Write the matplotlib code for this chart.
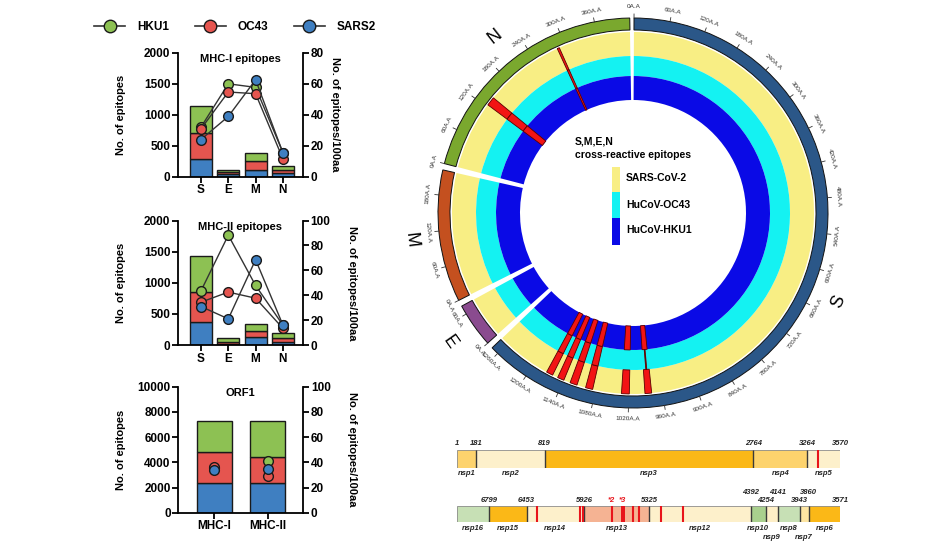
import numpy as np
import matplotlib
matplotlib.use('Agg')
import matplotlib.pyplot as plt
from matplotlib.patches import Wedge, Rectangle
from matplotlib.lines import Line2D

plt.rcParams['font.family'] = ['Liberation Sans', 'DejaVu Sans']
plt.rcParams['font.weight'] = 'bold'
plt.rcParams['axes.labelweight'] = 'bold'

# ---------------- data: epitope counts / density ----------------
proteins = ['S', 'E', 'M', 'N']
strains = ['HKU1', 'OC43', 'SARS2']
strain_colors = {'HKU1': '#8dc153', 'OC43': '#e5554f', 'SARS2': '#3f7fc1'}

mhc1_sars2 = [285, 38, 113, 54]
mhc1_oc43 = [420, 32, 134, 59]
mhc1_hku1 = [430, 37, 129, 54]
mhc1_dens_hku1 = [31.9, 59.9, 57.6, 15.5]
mhc1_dens_oc43 = [30.8, 54.6, 53.5, 11.4]
mhc1_dens_sars2 = [23.9, 38.8, 62.5, 15.3]

mhc2_sars2 = [376, 15, 134, 55]
mhc2_oc43 = [468, 35, 97, 60]
mhc2_hku1 = [581, 57, 102, 70]
mhc2_dens_hku1 = [43.5, 88.2, 47.8, 16.0]
mhc2_dens_oc43 = [34.4, 42.5, 37.6, 13.4]
mhc2_dens_sars2 = [30.9, 21.0, 68.5, 16.1]

orf1_classes = ['MHC-I', 'MHC-II']
orf1_sars2 = [2330, 2330]
orf1_oc43 = [2510, 2115]
orf1_hku1 = [2460, 2860]
orf1_dens_hku1 = [35.8, 41.3]
orf1_dens_oc43 = [36.6, 29.1]
orf1_dens_sars2 = [34.0, 34.4]

# ---------------- data: circos of structural proteins ----------------
seg_names = ['S', 'E', 'M', 'N']
seg_lengths = [1273, 75, 222, 419]
seg_colors = ['#2b5788', '#8a4b8f', '#c4501f', '#7aa82e']
seg_ticks = [list(range(0, 1261, 60)), [0, 60], [0, 60, 120, 180], list(range(0, 361, 60))]

epi_seg = ['N', 'N', 'S', 'S', 'S', 'S', 'S', 'S', 'S']
epi_start = [124, 285, 979, 1019, 1085, 1114, 1139, 1161, 984]
epi_end = [140, 289, 991, 1033, 1098, 1127, 1151, 1173, 986]
epi_rings = ['YCB', 'YCB', 'YB', 'YB', 'YCB', 'YCB', 'YCB', 'YCB', 'C']

ring_labels = ['SARS-CoV-2', 'HuCoV-OC43', 'HuCoV-HKU1']
ring_colors = ['#f8ee84', '#14f2f2', '#0a0ae6']

# ---------------- data: ORF1ab schematic ----------------
orf1a_start = [1, 181, 819, 2764, 3264]
orf1a_end = [181, 819, 2764, 3264, 3570]
orf1a_names = ['nsp1', 'nsp2', 'nsp3', 'nsp4', 'nsp5']
orf1a_colors = ['#fdd36d', '#fdf0cb', '#fbb817', '#fdd36d', '#fdf0cb']
orf1a_numbers = [1, 181, 819, 2764, 3264, 3570]
orf1a_marks = [3361]

orf1b_start = [3571, 3860, 3943, 4141, 4254, 4392, 5325, 5926, 6453, 6799]
orf1b_end = [3860, 3943, 4141, 4254, 4392, 5325, 5926, 6453, 6799, 7096]
orf1b_names = ['nsp6', 'nsp7', 'nsp8', 'nsp9', 'nsp10', 'nsp12', 'nsp13', 'nsp14', 'nsp15', 'nsp16']
orf1b_colors = ['#fbb817', '#fde5a2', '#c7e0b5', '#fdeec6', '#a9d08e', '#fdf0cb',
                '#f5b393', '#fdf0cb', '#fbb817', '#c7e0b5']
orf1b_numbers = [6799, 6453, 5926, 5325, 4392, 4254, 4141, 3943, 3860, 3571]
orf1b_marks = [6361, 5963, 5938, 5671, 5473, 5420, 5220, 5013]
orf1b_thick = [5550, 5585]
orf1b_stars = ['*2', '*3']
orf1b_star_pos = [5671, 5570]

W, H = 940, 558
fig = plt.figure(figsize=(W / 100, H / 100), dpi=100)


def px_rect(x0, y0, x1, y1):
    return [x0 / W, 1 - y1 / H, (x1 - x0) / W, (y1 - y0) / H]


def panel(rect, cats, counts, dens, ymax, yticks, rmax, title, width, xlim, lines, rlab_x):
    ax = fig.add_axes(rect)
    x = np.arange(len(cats))
    bottom = np.zeros(len(cats))
    for name in ['SARS2', 'OC43', 'HKU1']:
        vals = np.array(counts[name])
        ax.bar(x, vals, width, bottom=bottom, color=strain_colors[name],
               edgecolor='#1a1a1a', linewidth=1.0, zorder=2)
        bottom += vals
    ax.set_xlim(*xlim)
    ax.set_ylim(0, ymax)
    ax.set_yticks(yticks)
    ax.set_xticks(x)
    ax.set_xticklabels(cats)
    ax.spines['top'].set_visible(False)
    ax.spines['right'].set_visible(False)
    for s in ['left', 'bottom']:
        ax.spines[s].set_linewidth(1.3)
    ax.tick_params(width=1.3, length=4, labelsize=8.5, pad=1.5)
    ax.set_ylabel('No. of epitopes', fontsize=8)
    ax.yaxis.set_label_coords(-0.42, 0.5)
    ax.set_title(title, fontsize=8, fontweight='bold', y=0.86)

    ax2 = ax.twinx()
    for name in strains:
        ax2.plot(x, dens[name], color='#333333', lw=1.0 if lines else 0,
                 marker='o', ms=7, mfc=strain_colors[name], mec='#1a1a1a', mew=1, zorder=3)
    ax2.set_ylim(0, rmax)
    ax2.set_yticks(np.linspace(0, rmax, 6 if rmax == 100 else 5))
    for s in ['top', 'left', 'bottom']:
        ax2.spines[s].set_visible(False)
    ax2.spines['right'].set_linewidth(1.3)
    ax2.tick_params(width=1.3, length=4, labelsize=8.5, pad=1.5)
    ax2.set_ylabel('No. of epitopes/100aa', fontsize=8, rotation=-90)
    ax2.yaxis.set_label_coords(rlab_x, 0.5)
    return ax


panel(px_rect(178, 52.7, 303, 176.5), proteins,
      {'SARS2': mhc1_sars2, 'OC43': mhc1_oc43, 'HKU1': mhc1_hku1},
      {'HKU1': mhc1_dens_hku1, 'OC43': mhc1_dens_oc43, 'SARS2': mhc1_dens_sars2},
      2000, [0, 500, 1000, 1500, 2000], 80, 'MHC-I epitopes', 0.8, (-0.842, 3.736), True, 1.3)
panel(px_rect(178, 220.5, 303, 345), proteins,
      {'SARS2': mhc2_sars2, 'OC43': mhc2_oc43, 'HKU1': mhc2_hku1},
      {'HKU1': mhc2_dens_hku1, 'OC43': mhc2_dens_oc43, 'SARS2': mhc2_dens_sars2},
      2000, [0, 500, 1000, 1500, 2000], 100, 'MHC-II epitopes', 0.8, (-0.842, 3.736), True, 1.43)
panel(px_rect(178.3, 386.7, 303.3, 512.7), orf1_classes,
      {'SARS2': orf1_sars2, 'OC43': orf1_oc43, 'HKU1': orf1_hku1},
      {'HKU1': orf1_dens_hku1, 'OC43': orf1_dens_oc43, 'SARS2': orf1_dens_sars2},
      10000, [0, 2000, 4000, 6000, 8000, 10000], 100, 'ORF1', 0.65, (-0.665, 1.66), False, 1.43)

handles = [Line2D([], [], color='#333333', lw=1.2, marker='o', ms=9,
                  mfc=strain_colors[n], mec='#1a1a1a', mew=1) for n in strains]
fig.legend(handles, strains, loc='center', bbox_to_anchor=(235 / W, 1 - 27 / H), ncol=3,
           frameon=False, fontsize=8.5, handlelength=2.6, columnspacing=2.2, handletextpad=1.0)

# ---------------- circos ----------------
cx0, cy0 = 633, 213
axc = fig.add_axes(px_rect(420, 0, 880, 460))
axc.set_xlim(420 - cx0, 880 - cx0)
axc.set_ylim(cy0 - 460, cy0)
axc.axis('off')

scale = 0.1775
gap = 1.9
seg_start = {}
pos = 0.3
for name, length in zip(seg_names, seg_lengths):
    seg_start[name] = pos
    pos += length * scale + gap

ring_r = {'Y': (157, 181), 'C': (137, 157), 'B': (113, 137)}
outer_r = (183, 195)


def arc(c1, c2, r_in, r_out, **kw):
    axc.add_patch(Wedge((0, 0), r_out, 90 - c2, 90 - c1, width=r_out - r_in, **kw))


def tangent_rot(c):
    rot = (-c) % 360
    if 90 < rot <= 270:
        rot -= 180
    elif rot > 270:
        rot -= 360
    return rot


for name, length, col, ticks in zip(seg_names, seg_lengths, seg_colors, seg_ticks):
    c1 = seg_start[name]
    c2 = c1 + length * scale
    arc(c1, c2, *outer_r, facecolor=col, edgecolor='#111111', lw=0.7)
    for key, rc in zip('YCB', ring_colors):
        arc(c1, c2, *ring_r[key], facecolor=rc, edgecolor='none')
    for t in ticks:
        c = c1 + t * scale
        a = np.deg2rad(90 - c)
        axc.plot([195 * np.cos(a), 199 * np.cos(a)], [195 * np.sin(a), 199 * np.sin(a)],
                 color='#333333', lw=0.6)
        axc.text(206 * np.cos(a), 206 * np.sin(a), f'{t}A.A', fontsize=4.6, fontweight='normal',
                 color='#333333', rotation=tangent_rot(c), ha='center', va='center',
                 rotation_mode='anchor')
    cm = (c1 + c2) / 2
    a = np.deg2rad(90 - cm)
    axc.text(224 * np.cos(a), 224 * np.sin(a), name, fontsize=13, fontweight='normal',
             rotation=tangent_rot(cm), ha='center', va='center', rotation_mode='anchor')

for seg, s0, s1, rings in zip(epi_seg, epi_start, epi_end, epi_rings):
    c1 = seg_start[seg] + s0 * scale
    c2 = seg_start[seg] + s1 * scale
    for key in rings:
        arc(c1, c2, *ring_r[key], facecolor='#f21414', edgecolor='#5a0000', lw=0.6)

axc.text(575 - cx0, cy0 - 142, 'S,M,E,N', fontsize=7.5, ha='left', va='center')
axc.text(575 - cx0, cy0 - 155, 'cross-reactive epitopes', fontsize=7.5, ha='left', va='center')
for i, (lab, rc) in enumerate(zip(ring_labels, ring_colors)):
    ytop = [166.7, 191.7, 218.3][i]
    ybot = [191.7, 218.3, 245][i]
    axc.add_patch(Rectangle((611.7 - cx0, cy0 - ybot), 8.5, ybot - ytop, facecolor=rc, edgecolor='none'))
    axc.text(626 - cx0, cy0 - [178, 205, 230][i], lab, fontsize=7.5, ha='left', va='center')

# ---------------- ORF1ab schematic ----------------
lab_kw = dict(fontsize=5.5, fontstyle='italic', fontweight='bold', color='#222222')

axa = fig.add_axes(px_rect(456.7, 450, 840, 468))
for s0, s1, col in zip(orf1a_start, orf1a_end, orf1a_colors):
    axa.barh(0.5, s1 - s0, left=s0, height=1, color=col, edgecolor='#777777', lw=0.5)
axa.vlines(orf1a_start[1:], 0, 1, color='#3a3a3a', lw=1.0)
axa.vlines(orf1a_marks, 0, 1, color='#e8141b', lw=1.5)
for n in orf1a_numbers:
    axa.text(n, 1.35, str(n), ha='center', va='center', **lab_kw)
for s0, s1, nm in zip(orf1a_start, orf1a_end, orf1a_names):
    axa.text((s0 + s1) / 2, -0.3, nm, ha='center', va='center', **lab_kw)
axa.set_xlim(1, 3570)
axa.set_ylim(0, 1)
axa.axis('off')

axb = fig.add_axes(px_rect(456.7, 506, 840, 522))
for s0, s1, col in zip(orf1b_start, orf1b_end, orf1b_colors):
    axb.barh(0.5, s1 - s0, left=s0, height=1, color=col, edgecolor='#777777', lw=0.5)
axb.vlines(orf1b_start[1:], 0, 1, color='#3a3a3a', lw=1.0)
axb.vlines(orf1b_marks, 0, 1, color='#e8141b', lw=1.5)
axb.axvspan(orf1b_thick[0], orf1b_thick[1], color='#e8141b', lw=0)
upper_numbers = [4392, 4141, 3860]
for n in orf1b_numbers:
    axb.text(n, 1.85 if n in upper_numbers else 1.35, str(n), ha='center', va='center', **lab_kw)
for st, sp in zip(orf1b_stars, orf1b_star_pos):
    axb.text(sp, 1.35, st, ha='center', va='center', fontsize=5.5, fontstyle='italic',
             fontweight='bold', color='#e8141b')
lower_names = ['nsp9', 'nsp7']
for s0, s1, nm in zip(orf1b_start, orf1b_end, orf1b_names):
    axb.text((s0 + s1) / 2, -0.95 if nm in lower_names else -0.4, nm, ha='center', va='center', **lab_kw)
axb.set_xlim(7096, 3571)
axb.set_ylim(0, 1)
axb.axis('off')

fig.savefig('out.png', dpi=100)
